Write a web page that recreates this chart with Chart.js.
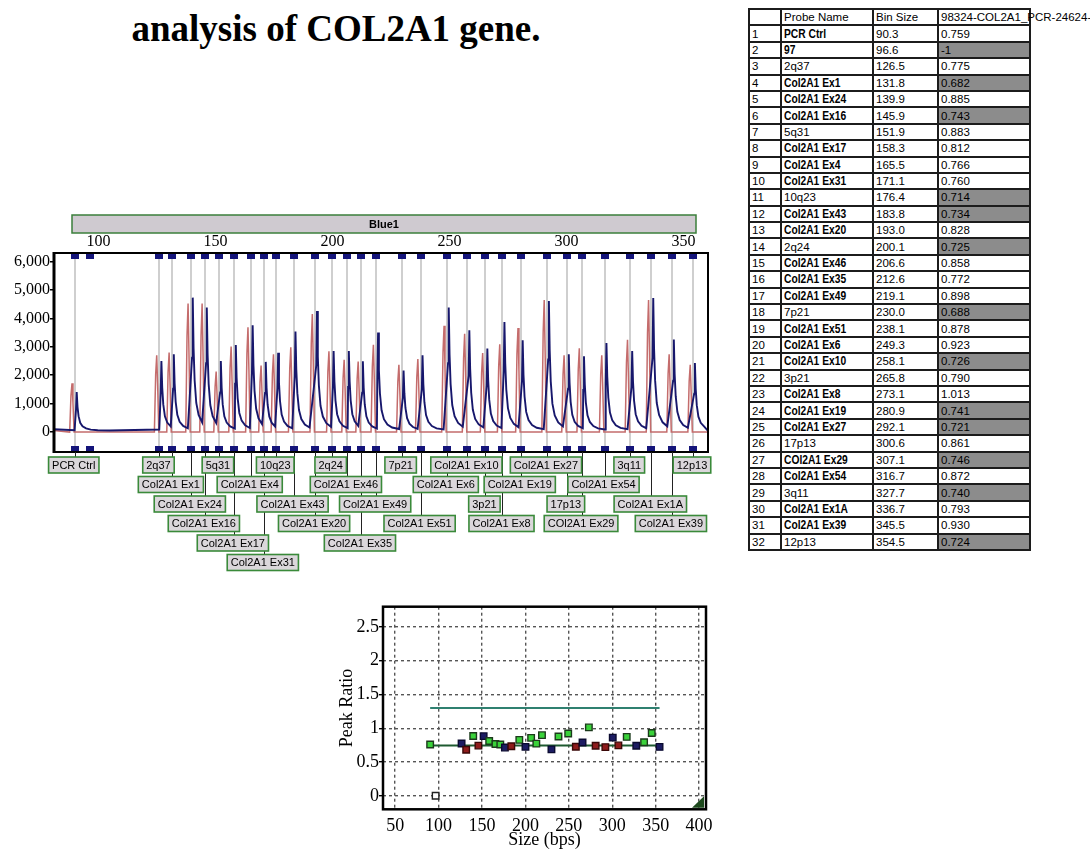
<!DOCTYPE html>
<html><head><meta charset="utf-8">
<script src="https://cdn.jsdelivr.net/npm/chart.js@4.4.1/dist/chart.umd.min.js"></script>
<style>
html,body{margin:0;padding:0;width:1090px;height:851px;overflow:hidden;background:#fff;}
#title{position:absolute;left:0;top:11px;width:672px;text-align:center;font:bold 37px "Liberation Serif",serif;line-height:36px;color:#000;white-space:nowrap;}
#c1{position:absolute;left:0;top:205px;}
#c2{position:absolute;left:320px;top:590px;}
#tbl{position:absolute;left:748px;top:8px;border-collapse:collapse;table-layout:fixed;width:281px;font:11.5px "Liberation Sans",Arial,sans-serif;color:#000;}
#tbl tr{height:16.4px;}
#tbl td{border:2px solid #1c1c1c;padding:0 0 0 2px;line-height:12px;white-space:nowrap;overflow:visible;}
#tbl td.b span{display:inline-block;font:bold 12.5px "Liberation Sans",Arial,sans-serif;transform:scaleX(0.82);transform-origin:0 50%;}
#tbl td.g{background:#8c8c8c;}
</style></head>
<body>
<div id="title">analysis of COL2A1 gene.</div>
<canvas id="c1" width="720" height="380"></canvas>
<table id="tbl"><colgroup><col style="width:32px"><col style="width:92px"><col style="width:65px"><col style="width:92px"></colgroup><tbody id="tb"></tbody></table>
<canvas id="c2" width="400" height="261"></canvas>
<script>
// ---------- data ----------
const probeNames = ['PCR Ctrl','97','2q37','Col2A1 Ex1','Col2A1 Ex24','Col2A1 Ex16','5q31','Col2A1 Ex17','Col2A1 Ex4','Col2A1 Ex31','10q23','Col2A1 Ex43','Col2A1 Ex20','2q24','Col2A1 Ex46','Col2A1 Ex35','Col2A1 Ex49','7p21','Col2A1 Ex51','Col2A1 Ex6','Col2A1 Ex10','3p21','Col2A1 Ex8','Col2A1 Ex19','Col2A1 Ex27','17p13','COl2A1 Ex29','Col2A1 Ex54','3q11','Col2A1 Ex1A','Col2A1 Ex39','12p13'];
const binSizes = [90.3,96.6,126.5,131.8,139.9,145.9,151.9,158.3,165.5,171.1,176.4,183.8,193.0,200.1,206.6,212.6,219.1,230.0,238.1,249.3,258.1,265.8,273.1,280.9,292.1,300.6,307.1,316.7,327.7,336.7,345.5,354.5];
const peakRatios = [0.759,-1,0.775,0.682,0.885,0.743,0.883,0.812,0.766,0.760,0.714,0.734,0.828,0.725,0.858,0.772,0.898,0.688,0.878,0.923,0.726,0.790,1.013,0.741,0.721,0.861,0.746,0.872,0.740,0.793,0.930,0.724];
const flagged = [0,1,0,1,0,1,0,0,0,0,1,1,0,1,0,0,0,1,0,0,1,0,0,1,1,0,1,0,1,0,0,1];
const referencePeakHeights = [1720,0,2700,2800,4520,4520,2130,3010,3690,2340,2740,2980,4150,2840,2540,2485,3070,2370,2570,3740,3460,2780,3090,3660,4650,2700,2950,2700,3250,4650,2740,2370];
const samplePeakHeights = [1370,0,2460,2700,4690,4340,2460,3020,3715,2430,2750,3500,4220,2810,2810,2450,3460,2130,2660,4340,3540,2900,3830,3190,4570,2700,2630,3090,2810,4680,3220,2390];
const sizeTicks = [100,150,200,250,300,350];
const heightTicks = [0,1000,2000,3000,4000,5000,6000];
const ratioSizeTicks = [50,100,150,200,250,300,350,400];
const ratioTicks = [0,0.5,1,1.5,2,2.5];
const upperLimit = 1.3;
const lowerLimit = 0.745;
const tableHeader = ['', 'Probe Name', 'Bin Size', '98324-COL2A1_PCR-24624-'];

// ---------- layout (label stacking rows under the trace) ----------
const labelRows = [0,-1,0,1,2,3,0,4,1,5,0,2,3,0,1,4,2,0,3,1,0,2,3,1,0,2,3,1,0,2,3,0];
const isRef = n => /^\d+[pq]\d+$/.test(n);

// ---------- table ----------
const tb = document.getElementById('tb');
let html = '<tr>' + tableHeader.map(h => '<td>' + h + '</td>').join('') + '</tr>';
probeNames.forEach((n, i) => {
  const r = peakRatios[i];
  html += '<tr><td>' + (i + 1) + '</td>' + (isRef(n) ? '<td>' + n + '</td>' : '<td class="b"><span>' + n + '</span></td>') + '<td>' +
    binSizes[i].toFixed(1) + '</td><td' + (flagged[i] ? ' class="g"' : '') + '>' + (r < 0 ? String(r) : r.toFixed(3)) + '</td></tr>';
});
tb.innerHTML = html;

// ---------- traces ----------
const X_MIN = 81, X_MAX = 360.5;
const blueShape = {off: [-0.9, -0.3, 0, 0.35, 0.8, 1.5, 2.5, 4, 6, 9, 14], frac: [0.02, 0.55, 1, 0.62, 0.38, 0.21, 0.12, 0.065, 0.035, 0.02, 0.01]};
const redShape = {off: [-1.0, -0.45, 0, 0.4, 0.9], frac: [0, 0.75, 1, 0.6, 0]};
function buildTrace(shift, heights, shape, base) {
  const pts = [{x: X_MIN, y: base + 60}];
  const peaks = binSizes.map((b, i) => ({p: b + shift, h: heights[i]})).filter(o => o.h > 0);
  peaks.forEach((pk, k) => {
    const next = k + 1 < peaks.length ? peaks[k + 1].p + shape.off[1] : X_MAX;
    const prevGap = k === 0 ? 99 : pk.p - peaks[k - 1].p;
    shape.off.forEach((o, j) => {
      const x = pk.p + o;
      if (j === 0 && prevGap < 15 && shape === blueShape) return;
      if (x < next && x < X_MAX) pts.push({x: x, y: base + pk.h * shape.frac[j]});
    });
  });
  pts.push({x: X_MAX, y: base});
  return pts;
}
const sampleTrace = buildTrace(0.4, samplePeakHeights, blueShape, 40);
const referenceTrace = buildTrace(-1.6, referencePeakHeights, redShape, 0);

const serif = '"Liberation Serif", "Times New Roman", serif';
const epPlugin = {
  id: 'ep',
  beforeDatasetsDraw(chart) {
    const {ctx, chartArea: a, scales: {x}} = chart;
    ctx.save();
    ctx.strokeStyle = '#cfcfcf'; ctx.lineWidth = 2;
    binSizes.forEach((b, i) => {
      if (labelRows[i] < 0) return;
      const px = Math.round(x.getPixelForValue(b)) - 1;
      ctx.beginPath(); ctx.moveTo(px, a.top); ctx.lineTo(px, a.bottom); ctx.stroke();
    });
    ctx.restore();
  },
  afterDraw(chart) {
    const {ctx, chartArea: a, scales: {x}} = chart;
    ctx.save();
    ctx.strokeStyle = '#000'; ctx.lineWidth = 2;
    ctx.strokeRect(a.left, a.top, a.right - a.left, a.bottom - a.top);
    ctx.lineWidth = 3; ctx.beginPath(); ctx.moveTo(a.left, a.top - 1); ctx.lineTo(a.left, a.bottom + 1); ctx.stroke();
    ctx.fillStyle = '#14147a';
    binSizes.forEach(b => {
      const px = Math.round(x.getPixelForValue(b)) - 1;
      ctx.fillRect(px - 4, a.top + 1, 8, 5);
      ctx.fillRect(px - 4, a.bottom - 6, 8, 5);
    });
    ctx.fillStyle = '#cfcad0'; ctx.strokeStyle = '#3b7f3b'; ctx.lineWidth = 1.5;
    ctx.fillRect(a.left + 18, 10, a.right - a.left - 30, 18);
    ctx.strokeRect(a.left + 18, 10, a.right - a.left - 30, 18);
    ctx.fillStyle = '#000'; ctx.font = 'bold 11px "Liberation Sans", Arial, sans-serif';
    ctx.textAlign = 'center'; ctx.textBaseline = 'middle';
    ctx.fillText('Blue1', (a.left + 18 + a.right - 12) / 2, 19.5);
    ctx.font = '11px "Liberation Sans", Arial, sans-serif';
    const rowTop = r => a.bottom + 5 + r * 19.5;
    ctx.strokeStyle = '#222'; ctx.lineWidth = 1;
    binSizes.forEach((b, i) => {
      if (labelRows[i] < 0) return;
      const px = Math.round(x.getPixelForValue(b)) - 0.5;
      ctx.beginPath(); ctx.moveTo(px, a.bottom); ctx.lineTo(px, rowTop(labelRows[i])); ctx.stroke();
    });
    binSizes.forEach((b, i) => {
      if (labelRows[i] < 0) return;
      const cx = x.getPixelForValue(b) - 2;
      const w = ctx.measureText(probeNames[i]).width + 7;
      const t = rowTop(labelRows[i]);
      ctx.fillStyle = '#dbd7db'; ctx.fillRect(cx - w / 2, t, w, 16);
      ctx.strokeStyle = '#3a8a3a'; ctx.lineWidth = 1.6; ctx.strokeRect(cx - w / 2, t, w, 16);
      ctx.fillStyle = '#000'; ctx.fillText(probeNames[i], cx, t + 8.5);
    });
    ctx.restore();
  }
};

new Chart(document.getElementById('c1'), {
  type: 'line',
  data: {datasets: [
    {label: 'Sample', data: sampleTrace, borderColor: '#17176c', borderWidth: 1.9, pointRadius: 0, tension: 0, fill: false},
    {label: 'Reference', data: referenceTrace, borderColor: '#c46c6c', borderWidth: 1.5, pointRadius: 0, tension: 0, fill: false}
  ]},
  options: {
    responsive: false, animation: false, events: [],
    layout: {padding: {left: 0, right: 12, top: 0, bottom: 133}},
    plugins: {legend: {display: false}, tooltip: {enabled: false}},
    scales: {
      x: {type: 'linear', position: 'top', min: X_MIN, max: X_MAX,
        afterBuildTicks: ax => { ax.ticks = sizeTicks.map(v => ({value: v})); },
        afterFit: ax => { ax.height = 48; },
        grid: {display: false}, border: {display: false},
        ticks: {font: {family: serif, size: 16}, color: '#000', padding: -6, maxRotation: 0, autoSkip: false}},
      y: {min: -700, max: 6300,
        afterBuildTicks: ax => { ax.ticks = heightTicks.map(v => ({value: v})); },
        afterFit: ax => { ax.width = 54; },
        grid: {drawOnChartArea: false, color: '#000', tickLength: 4, lineWidth: 1.5}, border: {display: false},
        ticks: {font: {family: serif, size: 16}, color: '#000', padding: 0, callback: v => v.toLocaleString('en-US')}}
    }
  },
  plugins: [epPlugin]
});

// ---------- ratio chart ----------
const ratioPoints = binSizes.map((b, i) => ({x: b, y: Math.max(0, peakRatios[i])}));
const fillCol = binSizes.map((b, i) => peakRatios[i] < 0 ? '#ffffff' : isRef(probeNames[i]) ? '#1c1c62' : flagged[i] ? '#8e1c1c' : '#3ad23a');
const edgeCol = binSizes.map((b, i) => peakRatios[i] < 0 ? '#222' : isRef(probeNames[i]) ? '#0a0a30' : flagged[i] ? '#3a0808' : '#1c3a1c');
const cornerPlugin = {
  id: 'corner',
  afterDraw(chart) {
    const {ctx, chartArea: a} = chart;
    ctx.save();
    ctx.strokeStyle = '#000'; ctx.lineWidth = 2.5;
    ctx.strokeRect(a.left, a.top, a.right - a.left, a.bottom - a.top);
    ctx.fillStyle = '#1d4a1d';
    ctx.beginPath(); ctx.moveTo(a.right - 14, a.bottom - 1.5); ctx.lineTo(a.right - 2, a.bottom - 1.5); ctx.lineTo(a.right - 2, a.bottom - 13); ctx.closePath(); ctx.fill();
    ctx.restore();
  }
};
new Chart(document.getElementById('c2'), {
  type: 'scatter',
  data: {datasets: [
    {label: 'Ratio', data: ratioPoints, pointStyle: 'rect', pointRadius: 4.6, backgroundColor: fillCol, borderColor: edgeCol, borderWidth: 1.4},
    {type: 'line', label: 'Upper', data: [{x: binSizes[0], y: upperLimit}, {x: binSizes[binSizes.length - 1], y: upperLimit}], borderColor: '#2f8070', borderWidth: 2, pointRadius: 0},
    {type: 'line', label: 'Lower', data: [{x: binSizes[0], y: lowerLimit}, {x: binSizes[binSizes.length - 1], y: lowerLimit}], borderColor: '#1e5a30', borderWidth: 2, pointRadius: 0}
  ]},
  options: {
    responsive: false, animation: false, events: [],
    layout: {padding: {left: 0, right: 14, top: 16.7, bottom: 0}},
    plugins: {legend: {display: false}, tooltip: {enabled: false}},
    scales: {
      x: {type: 'linear', min: 36, max: 408,
        afterBuildTicks: ax => { ax.ticks = ratioSizeTicks.map(v => ({value: v})); },
        afterFit: ax => { ax.height = 41.7; },
        grid: {color: '#555', lineWidth: 1.4, drawTicks: false}, border: {display: false, dash: [3, 3]},
        title: {display: true, text: 'Size (bps)', font: {family: serif, size: 18}, color: '#000', padding: {top: 0, bottom: 0}},
        ticks: {font: {family: serif, size: 18}, color: '#000', padding: 6.6, maxRotation: 0, autoSkip: false}},
      y: {min: -0.2, max: 2.8,
        afterBuildTicks: ax => { ax.ticks = ratioTicks.map(v => ({value: v})); },
        afterFit: ax => { ax.width = 63; },
        grid: {color: '#555', lineWidth: 1.4, tickLength: 4, tickColor: '#000'}, border: {display: false, dash: [3, 3]},
        title: {display: true, text: 'Peak Ratio', font: {family: serif, size: 18}, color: '#000', padding: {top: 16, bottom: 0}},
        ticks: {font: {family: serif, size: 18}, color: '#000', padding: 0, callback: v => String(v)}}
    }
  },
  plugins: [cornerPlugin]
});
</script>
</body></html>
